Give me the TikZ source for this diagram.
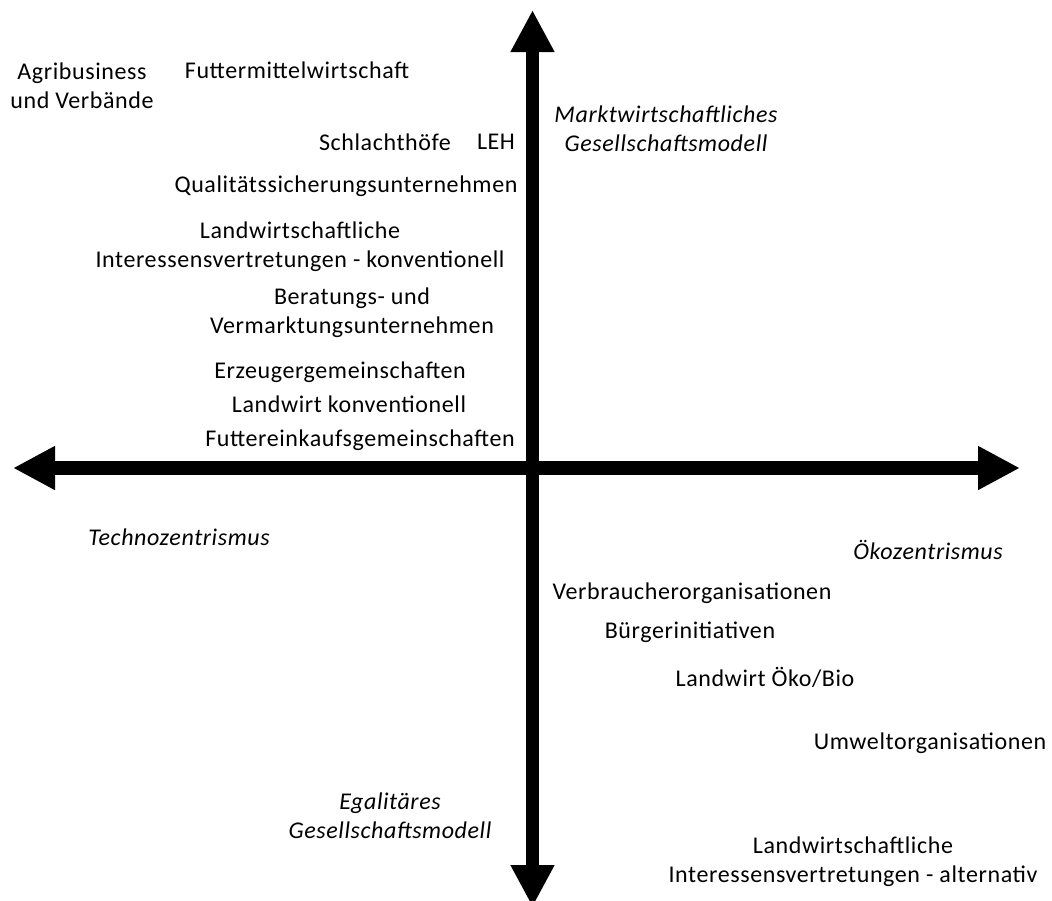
\documentclass[tikz,border=0pt]{standalone}
\usepackage{fontspec}
\setmainfont[LetterSpace=2.5]{Carlito}
\usetikzlibrary{arrows.meta}
\begin{document}
\begin{tikzpicture}[x=0.5pt,y=-0.5pt,
    actor/.style={align=center,inner sep=0pt,font=\fontsize{12}{14.4}\selectfont},
    pole/.style={actor,font=\fontsize{12}{14.4}\selectfont\itshape},
    axis/.style={line width=6.6pt,-{Triangle[length=21pt,width=20.5pt]}}]
  \useasboundingbox (0,0) rectangle (1052,900);

  % Axes
  \coordinate (origin) at (532.5,468);
  \coordinate (west) at (13,468);
  \coordinate (east) at (1020,468);
  \coordinate (north) at (532.5,10);
  \coordinate (south) at (532.5,907);
  \draw[axis] (origin) -- (west);
  \draw[axis] (origin) -- (east);
  \draw[axis] (origin) -- (north);
  \draw[axis] (origin) -- (south);

  % Poles
  \node[pole] (markt) at (666,129) {Marktwirtschaftliches\\Gesellschaftsmodell};
  \node[pole] (egal) at (390,816) {Egalitäres\\Gesellschaftsmodell};
  \node[pole] (techno) at (179,537) {Technozentrismus};
  \node[pole] (oeko) at (928,550) {Ökozentrismus};

  % Actors, upper left
  \node[actor] (agri) at (82,86) {Agribusiness\\und Verbände};
  \node[actor] (futter) at (297,70) {Futtermittelwirtschaft};
  \node[actor] (schlacht) at (385,142) {Schlachthöfe};
  \node[actor] (leh) at (496,142) {LEH};
  \node[actor] (qs) at (346,186) {Qualitätssicherungsunternehmen};
  \node[actor] (lwkonv) at (300,247) {Landwirtschaftliche\\Interessensvertretungen - konventionell};
  \node[actor] (beratung) at (352,313) {Beratungs- und\\Vermarktungsunternehmen};
  \node[actor] (erzeuger) at (340,372) {Erzeugergemeinschaften};
  \node[actor] (landwirt) at (349,404) {Landwirt konventionell};
  \node[actor] (einkauf) at (360,440) {Futtereinkaufsgemeinschaften};

  % Actors, lower right
  \node[actor] (verbraucher) at (692,593) {Verbraucherorganisationen};
  \node[actor] (buerger) at (690,632) {Bürgerinitiativen};
  \node[actor] (bio) at (765,677) {Landwirt Öko/Bio};
  \node[actor] (umwelt) at (930,743) {Umweltorganisationen};
  \node[actor] (lwalt) at (853,862) {Landwirtschaftliche\\Interessensvertretungen - alternativ};
\end{tikzpicture}
\end{document}
